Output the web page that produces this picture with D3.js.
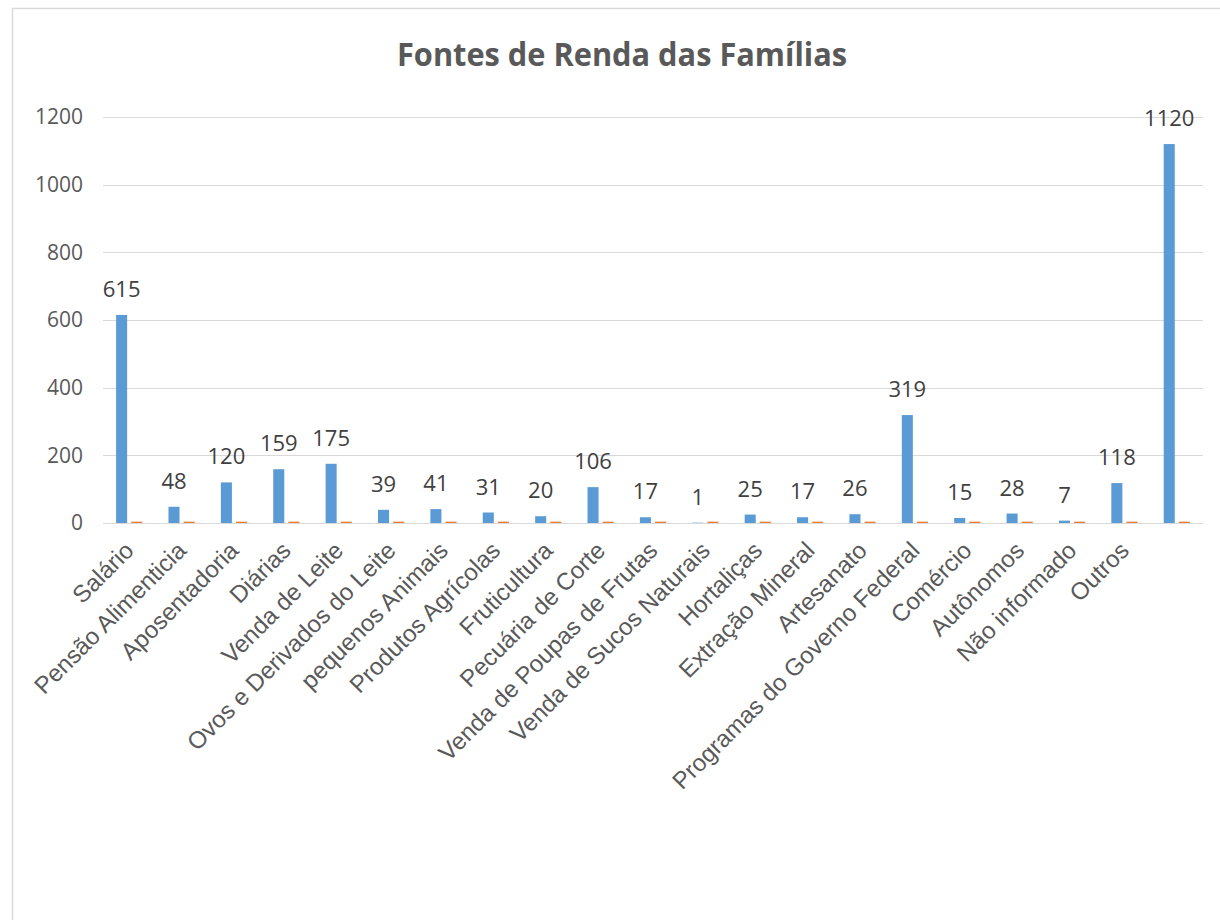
<!DOCTYPE html>
<html>
<head>
<meta charset="utf-8">
<script src="https://cdn.jsdelivr.net/npm/d3@7"></script>
<style>
  html, body { margin: 0; padding: 0; background: #fff; }
  svg { display: block; }
</style>
</head>
<body>
<svg id="chart" width="1220" height="920"></svg>
<script>
const title = "Fontes de Renda das Famílias";
const categories = [
  "Salário", "Pensão Alimenticia", "Aposentadoria", "Diárias", "Venda de Leite",
  "Ovos e Derivados do Leite", "pequenos Animais", "Produtos Agrícolas", "Fruticultura",
  "Pecuária de Corte", "Venda de Poupas de Frutas", "Venda de Sucos Naturais", "Hortaliças",
  "Extração Mineral", "Artesanato", "Programas do Governo Federal", "Comércio", "Autônomos",
  "Não informado", "Outros", ""
];
const series1 = [615, 48, 120, 159, 175, 39, 41, 31, 20, 106, 17, 1, 25, 17, 26, 319, 15, 28, 7, 118, 1120];
const series2 = [4, 4, 4, 4, 4, 4, 4, 4, 4, 4, 4, 4, 4, 4, 4, 4, 4, 4, 4, 4, 4];
const yTicks = [0, 200, 400, 600, 800, 1000, 1200];
const seriesNames = ["Série1", "Série2"];
const colors = ["#5B9BD5", "#ED7D31"];

const svg = d3.select("#chart");

// outer chart border
svg.append("rect")
  .attr("x", 12.5).attr("y", 8.5)
  .attr("width", 1240).attr("height", 940)
  .attr("fill", "none").attr("stroke", "#D9D9D9").attr("stroke-width", 1.5);

const plot = { left: 103, right: 1203, top: 117, bottom: 523 };

const y = d3.scaleLinear().domain([0, 1200]).range([plot.bottom, plot.top]);
const x0 = d3.scaleBand().domain(d3.range(categories.length)).range([plot.left, plot.right]).padding(0);
const bw = x0.bandwidth();
const x1 = d3.scaleBand().domain(seriesNames).range([bw * 0.25, bw * 0.75]).paddingInner(0.27).paddingOuter(0);

// title
svg.append("text")
  .attr("x", 622).attr("y", 66)
  .attr("text-anchor", "middle")
  .attr("font-family", "'Open Sans', sans-serif")
  .attr("font-weight", 700)
  .attr("font-size", 32)
  .attr("fill", "#595959")
  .attr("textLength", 450)
  .attr("lengthAdjust", "spacingAndGlyphs")
  .text(title);

// gridlines
svg.append("g")
  .selectAll("line")
  .data(yTicks)
  .join("line")
  .attr("x1", plot.left).attr("x2", plot.right)
  .attr("y1", d => Math.round(y(d)) + 0.5).attr("y2", d => Math.round(y(d)) + 0.5)
  .attr("stroke", "#D9D9D9").attr("stroke-width", 1);

// y axis labels
const yAxis = d3.axisLeft(y).tickValues(yTicks).tickFormat(d3.format("d")).tickSize(0).tickPadding(0);
const yg = svg.append("g").attr("transform", `translate(${83},0)`).call(yAxis);
yg.select(".domain").remove();
yg.selectAll("text")
  .attr("font-family", "'Open Sans', sans-serif")
  .attr("font-size", 21)
  .attr("fill", "#595959");

// bars
const groups = svg.append("g")
  .selectAll("g")
  .data(categories.map((c, i) => ({ i, vals: [series1[i], series2[i]] })))
  .join("g")
  .attr("transform", d => `translate(${x0(d.i)},0)`);

groups.selectAll("rect")
  .data(d => d.vals.map((v, k) => ({ v, k })))
  .join("rect")
  .attr("x", d => x1(seriesNames[d.k]))
  .attr("width", x1.bandwidth())
  .attr("y", d => y(d.v))
  .attr("height", d => y(0) - y(d.v))
  .attr("fill", d => colors[d.k]);

// data labels (series 1)
groups.append("text")
  .attr("x", x1(seriesNames[0]) + x1.bandwidth() / 2)
  .attr("y", d => y(d.vals[0]) - 18)
  .attr("text-anchor", "middle")
  .attr("font-family", "'Open Sans', sans-serif")
  .attr("font-size", 22)
  .attr("fill", "#404040")
  .text(d => d.vals[0]);

// x axis category labels
const xAxis = d3.axisBottom(x0).tickFormat(i => categories[i]).tickSize(0).tickPadding(0);
const xg = svg.append("g").attr("transform", `translate(0,${plot.bottom})`).call(xAxis);
xg.select(".domain").remove();
xg.selectAll("text")
  .attr("font-family", "'Liberation Sans', Arial, sans-serif")
  .attr("font-size", 24)
  .attr("fill", "#595959")
  .attr("text-anchor", "end")
  .attr("dy", 0)
  .attr("transform", "translate(6,29) rotate(-45)");
</script>
</body>
</html>
